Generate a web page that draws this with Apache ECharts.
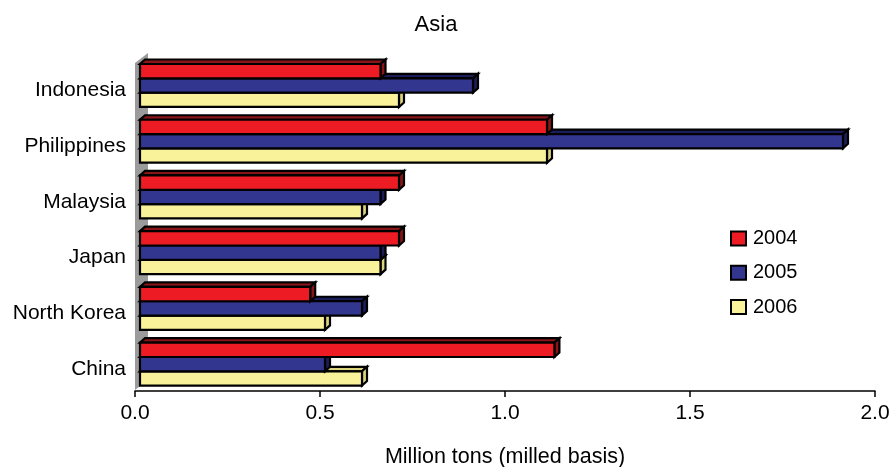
<!DOCTYPE html>
<html>
<head>
<meta charset="utf-8">
<title>Asia</title>
<script src="https://cdn.jsdelivr.net/npm/echarts@6/dist/echarts.min.js"></script>
<style>
  html, body { margin: 0; padding: 0; background: #fff; }
  #chart { width: 890px; height: 467px; }
</style>
</head>
<body>
<div id="chart"></div>
<script>
// Countries, top to bottom
const countries = ['Indonesia', 'Philippines', 'Malaysia', 'Japan', 'North Korea', 'China'];
// Years shown as series
const years = ['2004', '2005', '2006'];
// Million tons (milled basis), one array per year, in country order
const values2004 = [0.65, 1.10, 0.70, 0.70, 0.46, 1.12];
const values2005 = [0.90, 1.90, 0.65, 0.65, 0.60, 0.50];
const values2006 = [0.70, 1.10, 0.60, 0.65, 0.50, 0.60];
// Value axis ticks
const axisMin = 0, axisMax = 2.0, axisStep = 0.5;

const FONT = '"Liberation Sans", Arial, Helvetica, sans-serif';
const faces = [
  { front: '#ED1C24', dark: '#8A1518' },
  { front: '#33368F', dark: '#1B1D5A' },
  { front: '#FAF29B', dark: '#DCD37F' }
];
const DEPTH_X = 5, DEPTH_Y = -4.5;

// Draws one year's bar as a box: front face, top face and right side face
function boxRenderer(s) {
  return function (params, api) {
    const cat = api.value(1);
    const val = api.value(0);
    const band = api.size([0, 1])[1];
    const zero = api.coord([0, cat]);
    const end = api.coord([val, cat]);
    const barH = band * 0.257;
    const top = zero[1] - band * 0.475 + s * barH;
    const bot = top + barH;
    const x0 = zero[0] + DEPTH_X;
    const x1 = end[0] + DEPTH_X;
    const stroke = { stroke: '#000', lineWidth: 2.2, lineJoin: 'miter' };
    return {
      type: 'group',
      children: [
        {
          type: 'polygon',
          shape: { points: [[x0, top], [x1, top], [x1 + DEPTH_X, top + DEPTH_Y], [x0 + DEPTH_X, top + DEPTH_Y]] },
          style: Object.assign({ fill: faces[s].dark }, stroke)
        },
        {
          type: 'polygon',
          shape: { points: [[x1, top], [x1 + DEPTH_X, top + DEPTH_Y], [x1 + DEPTH_X, bot + DEPTH_Y], [x1, bot]] },
          style: Object.assign({ fill: faces[s].dark }, stroke)
        },
        {
          type: 'rect',
          shape: { x: x0, y: top, width: x1 - x0, height: barH },
          style: Object.assign({ fill: faces[s].front }, stroke)
        }
      ]
    };
  };
}

// Grey side wall at the base of the value axis
function wallRenderer(params) {
  const cs = params.coordSys;
  const x = cs.x, top = cs.y + 0.5, bottom = cs.y + cs.height - 7;
  return {
    type: 'polygon',
    shape: { points: [[x, top], [x + 13, top - 10], [x + 13, bottom - 10], [x, bottom]] },
    style: { fill: '#9B9B9B' }
  };
}

const yearValues = [values2004, values2005, values2006];
const series = [{
  type: 'custom',
  name: 'wall',
  silent: true,
  z: 1,
  renderItem: wallRenderer,
  data: [[0, 0]],
  encode: { x: 0, y: 1 }
}];
years.forEach(function (yr, s) {
  series.push({
    type: 'custom',
    name: yr,
    z: 4 - s,
    itemStyle: { color: faces[s].front },
    renderItem: boxRenderer(s),
    encode: { x: 0, y: 1 },
    data: yearValues[s].map(function (v, i) { return [v, i]; })
  });
});

const chart = echarts.init(document.getElementById('chart'), null, { renderer: 'canvas' });
chart.setOption({
  animation: false,
  backgroundColor: '#fff',
  textStyle: { fontFamily: FONT, color: '#000' },
  title: {
    text: 'Asia',
    left: 431, textAlign: 'center',
    top: 9,
    textStyle: { fontFamily: FONT, fontSize: 22, fontWeight: 'normal', color: '#000' }
  },
  legend: {
    data: years,
    orient: 'vertical',
    left: 730, top: 228.5,
    padding: 0,
    itemWidth: 15, itemHeight: 14, itemGap: 14.3,
    icon: 'rect',
    itemStyle: { borderColor: '#000', borderWidth: 2 },
    textStyle: { fontFamily: FONT, fontSize: 20, color: '#000', padding: [0, 0, 0, 2] }
  },
  grid: { left: 135, right: 15, top: 62.6, bottom: 70, containLabel: false, outerBoundsMode: 'none' },
  xAxis: {
    type: 'value',
    min: axisMin, max: axisMax, interval: axisStep,
    offset: -6,
    name: 'Million tons (milled basis)',
    nameLocation: 'middle',
    nameGap: 55,
    nameTextStyle: { fontFamily: FONT, fontSize: 21.5, color: '#000' },
    axisLine: { show: true, lineStyle: { color: '#000', width: 1.5 } },
    axisTick: { show: true, inside: false, length: 6, lineStyle: { color: '#000', width: 1.5 } },
    axisLabel: {
      margin: 12, fontFamily: FONT, fontSize: 21, color: '#000',
      formatter: function (v) { return v.toFixed(1); }
    },
    splitLine: { show: false }
  },
  yAxis: {
    type: 'category',
    data: countries,
    inverse: true,
    axisLine: { show: false },
    axisTick: { show: false },
    axisLabel: { margin: 9, fontFamily: FONT, fontSize: 21, color: '#000' },
    splitLine: { show: false }
  },
  series: series
});
</script>
</body>
</html>
